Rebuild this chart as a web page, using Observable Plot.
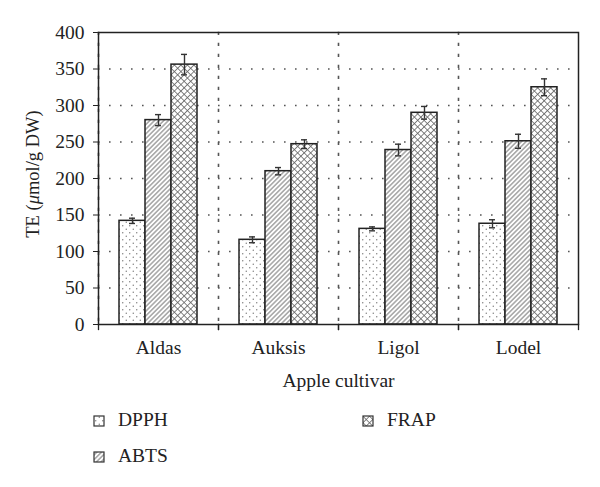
<!DOCTYPE html>
<html>
<head>
<meta charset="utf-8">
<script src="https://cdn.jsdelivr.net/npm/d3@7"></script>
<script src="https://cdn.jsdelivr.net/npm/@observablehq/plot@0.6"></script>
<style>
  body { margin: 0; background: #fff; }
  #wrap { position: relative; width: 600px; height: 487px; font-family: "Liberation Serif", serif; color: #222; background: #fff; }
  #ylabel { position: absolute; left: 33px; top: 174px; transform: translate(-50%, -50%) rotate(-90deg); white-space: nowrap; font-size: 18.5px; }
  #legend { position: absolute; left: 0; top: 395px; }
</style>
</head>
<body>
<svg width="0" height="0" style="position:absolute">
  <defs>
    <pattern id="pat-DPPH" patternUnits="userSpaceOnUse" width="7" height="7">
      <rect width="7" height="7" fill="white"/>
      <circle cx="1.75" cy="1.75" r="0.7" fill="#777"/>
      <circle cx="5.25" cy="5.25" r="0.7" fill="#777"/>
    </pattern>
    <pattern id="pat-ABTS" patternUnits="userSpaceOnUse" width="3.3" height="3.3" patternTransform="rotate(45)">
      <rect width="3.3" height="3.3" fill="white"/>
      <line x1="1.65" y1="0" x2="1.65" y2="3.3" stroke="#666" stroke-width="0.9"/>
    </pattern>
    <pattern id="pat-FRAP" patternUnits="userSpaceOnUse" width="4.6" height="4.6" patternTransform="rotate(45)">
      <rect width="4.6" height="4.6" fill="white"/>
      <line x1="2.3" y1="0" x2="2.3" y2="4.6" stroke="#666" stroke-width="0.8"/>
      <line x1="0" y1="2.3" x2="4.6" y2="2.3" stroke="#666" stroke-width="0.8"/>
    </pattern>
  </defs>
</svg>
<div id="wrap">
  <div id="ylabel">TE (<i>μ</i>mol/g DW)</div>
</div>
<script>
const cultivars = ["Aldas", "Auksis", "Ligol", "Lodel"];
const series = ["DPPH", "ABTS", "FRAP"];
const dpph = [142, 116, 131, 138];
const dpphErr = [3.6, 4, 2.7, 5.5];
const abts = [280, 210, 239, 251];
const abtsErr = [7.5, 5, 8, 9.6];
const frap = [356, 247, 290, 325];
const frapErr = [14, 6, 8.7, 11.5];
const yTicks = [0, 50, 100, 150, 200, 250, 300, 350, 400];
const xLabel = "Apple cultivar";

const values = {DPPH: dpph, ABTS: abts, FRAP: frap};
const errors = {DPPH: dpphErr, ABTS: abtsErr, FRAP: frapErr};
const data = cultivars.flatMap((c, i) => series.map(s => ({cultivar: c, series: s, value: values[s][i], err: errors[s][i]})));
const gridValues = yTicks.slice(1, -1);
const dotted = {stroke: "#555", strokeWidth: 1.6, strokeDasharray: "1.6 9.4"};

const chart = Plot.plot({
  width: 600,
  height: 395,
  marginTop: 32,
  marginLeft: 96,
  marginRight: 21,
  marginBottom: 71,
  style: {fontFamily: "Liberation Serif, serif", fontSize: "19.5px", color: "#222", background: "white", overflow: "visible"},
  fx: {domain: cultivars, padding: 0, axis: "bottom", label: xLabel, labelAnchor: "center", tickSize: 0, tickPadding: 16, labelOffset: 62},
  x: {domain: series, paddingInner: 0, paddingOuter: 0.736, axis: null},
  y: {domain: [0, 400], ticks: yTicks, tickSize: 5, tickPadding: 9, label: null},
  color: {type: "ordinal", domain: series, range: series.map(s => `url(#pat-${s})`)},
  marks: [
    Plot.ruleY(gridValues, dotted),
    Plot.frame({anchor: "left", ...dotted}),
    Plot.frame({anchor: "left", insetTop: 292, insetBottom: -5, stroke: "#222", strokeWidth: 1.3}),
    Plot.frame({anchor: "right", insetTop: 292, insetBottom: -5, stroke: "#222", strokeWidth: 1.3}),
    Plot.barY(data, {fx: "cultivar", x: "series", y: "value", fill: "series", stroke: "#222", strokeWidth: 1.5}),
    Plot.ruleX(data, {fx: "cultivar", x: "series", y1: d => d.value - d.err, y2: d => d.value + d.err, stroke: "#333", strokeWidth: 1.4}),
    Plot.tickY(data, {fx: "cultivar", x: "series", y: d => d.value - d.err, insetLeft: 10, insetRight: 10, stroke: "#333", strokeWidth: 1.4}),
    Plot.tickY(data, {fx: "cultivar", x: "series", y: d => d.value + d.err, insetLeft: 10, insetRight: 10, stroke: "#333", strokeWidth: 1.4}),
    Plot.frame({facet: "super", stroke: "#222", strokeWidth: 1.5})
  ]
});
const wrap = document.getElementById("wrap");
wrap.insertBefore(chart, wrap.firstChild);

// Legend (two rows, column-major)
const legend = d3.select(wrap).append("svg")
  .attr("id", "legend").attr("width", 600).attr("height", 92);
series.forEach((s, i) => {
  const col = Math.floor(i / 2), row = i % 2;
  const g = legend.append("g").attr("transform", `translate(${94 + col * 269},${31 + row * 36})`);
  g.append("rect").attr("x", 0).attr("y", -10).attr("width", 10).attr("height", 10)
    .attr("fill", `url(#pat-${s})`).attr("stroke", "#333").attr("stroke-width", 1.2);
  g.append("text").attr("x", 24).attr("y", 0)
    .attr("font-family", "Liberation Serif, serif").attr("font-size", 19.5).attr("fill", "#222").text(s);
});
</script>
</body>
</html>
